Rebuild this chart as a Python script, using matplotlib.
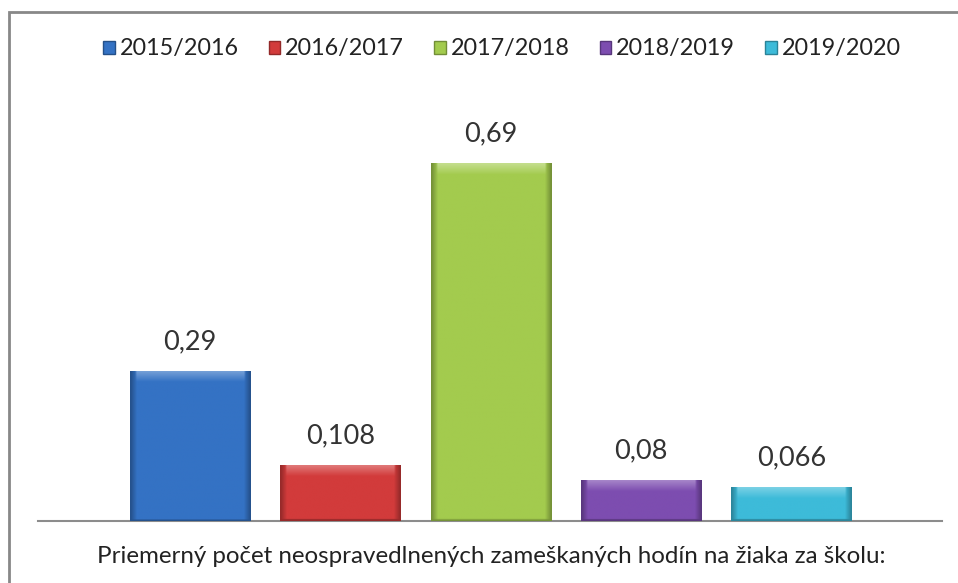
import numpy as np
import matplotlib.pyplot as plt
import matplotlib.colors as mcolors
from matplotlib.patches import Patch, Rectangle

plt.rcParams['font.family'] = ['Lato', 'DejaVu Sans']

years = ['2015/2016', '2016/2017', '2017/2018', '2018/2019', '2019/2020']
values = [0.29, 0.108, 0.69, 0.08, 0.066]
labels = ['0,29', '0,108', '0,69', '0,08', '0,066']
colors = ['#3472C4', '#D23B3B', '#A3CB4E', '#7D4DB0', '#3DBBD9']
category = 'Priemerný počet neospravedlnených zameškaných hodín na žiaka za školu:'


def bevel(ax, bar, color):
    # fake the excel bevel: dark sides, light top strip
    x0, y0 = bar.get_x(), bar.get_y()
    w, h = bar.get_width(), bar.get_height()
    base = np.array(mcolors.to_rgb(color))
    dark = base * 0.72
    light = np.clip(base + (1 - base) * 0.35, 0, 1)
    nx, ny = 60, 200
    img = np.tile(base, (ny, nx, 1))
    ex = max(1, int(nx * 0.06))
    for i in range(ex):
        t = 1 - i / ex
        img[:, i] = base * (1 - t) + dark * t
        img[:, nx - 1 - i] = base * (1 - t) + dark * t
    ax_h = ax.get_window_extent().height
    ylim = ax.get_ylim()
    px = h / (ylim[1] - ylim[0]) * ax_h
    top = max(2, int(ny * 12 / max(px, 1)))
    top = min(top, ny // 2)
    for j in range(top):
        t = 1 - j / top
        img[ny - 1 - j, ex:nx - ex] = base * (1 - t) + light * t
    img[0:max(1, int(ny * 2 / max(px, 1))), :] = dark
    im = ax.imshow(img, extent=(x0, x0 + w, y0, y0 + h), origin='lower',
                   aspect='auto', interpolation='bilinear', zorder=3)
    im.set_clip_path(bar)


fig = plt.figure(figsize=(9.58, 5.83), dpi=100)
ax = fig.add_axes([38 / 958, 1 - 521 / 583, 904 / 958, 415 / 583])

x = np.arange(len(values))
bars = ax.bar(x, values, width=0.8, color=colors, edgecolor='none', zorder=2)
ax.set_xlim(-1.01, 5.0)
ax.set_ylim(0, 0.8)

for b, c in zip(bars, colors):
    bevel(ax, b, c)
ax.set_xlim(-1.01, 5.0)
ax.set_ylim(0, 0.8)

for xi, v, lab in zip(x, values, labels):
    ax.annotate(lab, (xi, v), xytext=(0, 12), textcoords='offset points',
                ha='center', va='bottom', fontsize=19.5, color='#333333')

for s in ['top', 'right', 'left']:
    ax.spines[s].set_visible(False)
ax.spines['bottom'].set_color('#8c8c8c')
ax.spines['bottom'].set_linewidth(1.5)
ax.set_yticks([])
ax.set_xticks([2], [category])
ax.tick_params(axis='x', length=0, pad=18, labelsize=17.4, labelcolor='#222222')

handles = [Patch(facecolor=c, edgecolor=mcolors.to_hex(np.array(mcolors.to_rgb(c)) * 0.7)) for c in colors]
fig.legend(handles, years, loc='center', bbox_to_anchor=(502 / 958, 1 - 49 / 583),
           ncol=5, frameon=False, fontsize=16.8, handlelength=0.5, handleheight=0.5,
           handletextpad=0.2, columnspacing=1.3, labelcolor='#222222')

fig.patches.append(Rectangle((9 / 958, -0.1), 1.2, 1 - 12 / 583 + 0.1,
                             transform=fig.transFigure, fill=False,
                             edgecolor='#888888', linewidth=2))

fig.savefig('out.png', dpi=100)
